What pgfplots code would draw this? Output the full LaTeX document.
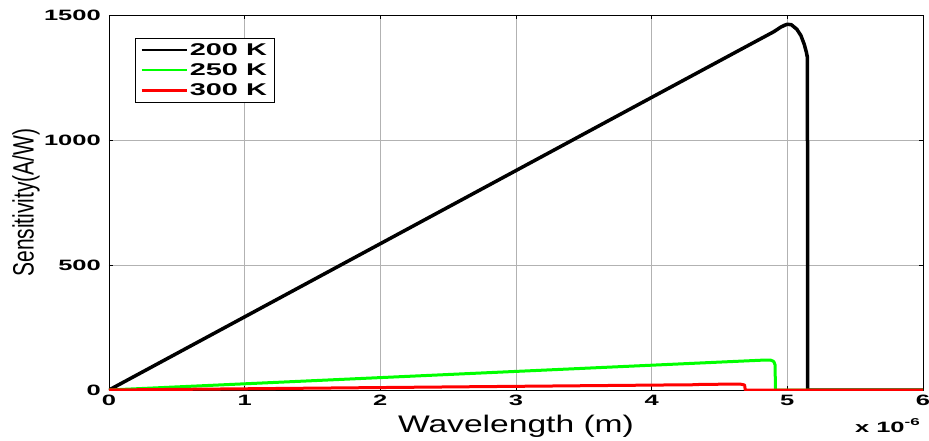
\documentclass[border=0pt]{standalone}
\usepackage{pgfplots}
\pgfplotsset{compat=1.18}
\usepackage{graphicx}
\usepackage{fontspec}
\setmainfont{Liberation Sans}
\newfontfamily\tickfont[FakeStretch=1.7]{Liberation Sans Bold}
\newfontfamily\xlabfont[FakeStretch=1.4]{Liberation Sans}
\begin{document}
\begin{tikzpicture}
\begin{axis}[
  at={(0,0)}, anchor=south west,
  scale only axis, width=814pt, height=375pt,
  xmin=0, xmax=6, ymin=0, ymax=1500,
  xtick={0,1,2,3,4,5,6}, ytick={0,500,1000,1500},
  /pgf/number format/assume math mode=true,
  /pgf/number format/1000 sep={},
  tick label style={font=\tickfont\fontsize{15}{15}\selectfont, inner sep=0pt},
  xticklabel style={yshift=-5pt},
  yticklabel style={xshift=-8pt},
  grid=major,
  major grid style={gray!60, line width=0.7pt},
  axis line style={black, line width=0.7pt},
  tick style={black, line width=0.6pt},
  major tick length=4pt,
  tick align=inside,
  xlabel={Wavelength (m)},
  xlabel style={font=\xlabfont\fontsize{24}{24}\selectfont, at={(axis description cs:0.5,0)}, anchor=base, yshift=-42pt, inner sep=0pt},
  ylabel={\scalebox{1}[1.4]{Sensitivity(A/W)}},
  ylabel style={font=\fontsize{21}{21}\selectfont, at={(axis description cs:-0.0848,0.5)}, anchor=south, inner sep=0pt},
  legend style={at={(0.032,0.939)}, anchor=north west, draw=black, line width=0.6pt,
    font=\tickfont\fontsize{17}{17}\selectfont, inner xsep=5pt, inner ysep=3pt, row sep=3pt,
    cells={anchor=west}},
  legend image code/.code={\draw[#1, line width=2.5pt] (0pt,0pt) -- (45pt,0pt);},
]
\addplot[black, line width=3.5pt, line join=round] coordinates {
 (0,0) (1,292.6) (2,585.2) (3,877.8) (4,1170.4) (4.8,1404) (4.9,1433) (4.95,1451) (4.98,1459) (5.0,1463) (5.03,1461) (5.07,1443) (5.1,1418) (5.125,1382) (5.14,1352) (5.148,1330) (5.149,800) (5.15,0) (6,0)
};
\addlegendentry{200 K}
\addplot[green, line width=3pt, line join=round] coordinates {
 (0,0) (1,24.8) (2,49.6) (3,74.4) (4,99.2) (4.8,119) (4.85,120) (4.88,119) (4.9,114) (4.91,100) (4.912,0) (6,0)
};
\addlegendentry{250 K}
\addplot[red, line width=3pt, line join=round] coordinates {
 (0,0) (1,4.9) (2,9.8) (3,14.7) (4,19.6) (4.34,21.2) (4.35,22.5) (4.62,23.5) (4.66,23) (4.685,20) (4.69,0) (6,0)
};
\addlegendentry{300 K}
\end{axis}
\node[anchor=base east, inner sep=0pt, font=\tickfont\fontsize{15}{15}\selectfont] at (811pt,-42pt) {x 10\raisebox{7pt}{\fontsize{10}{10}\selectfont -6}};
\pgfresetboundingbox
\path[use as bounding box] (-109pt,-50pt) rectangle (820pt,390pt);
\end{tikzpicture}
\end{document}
